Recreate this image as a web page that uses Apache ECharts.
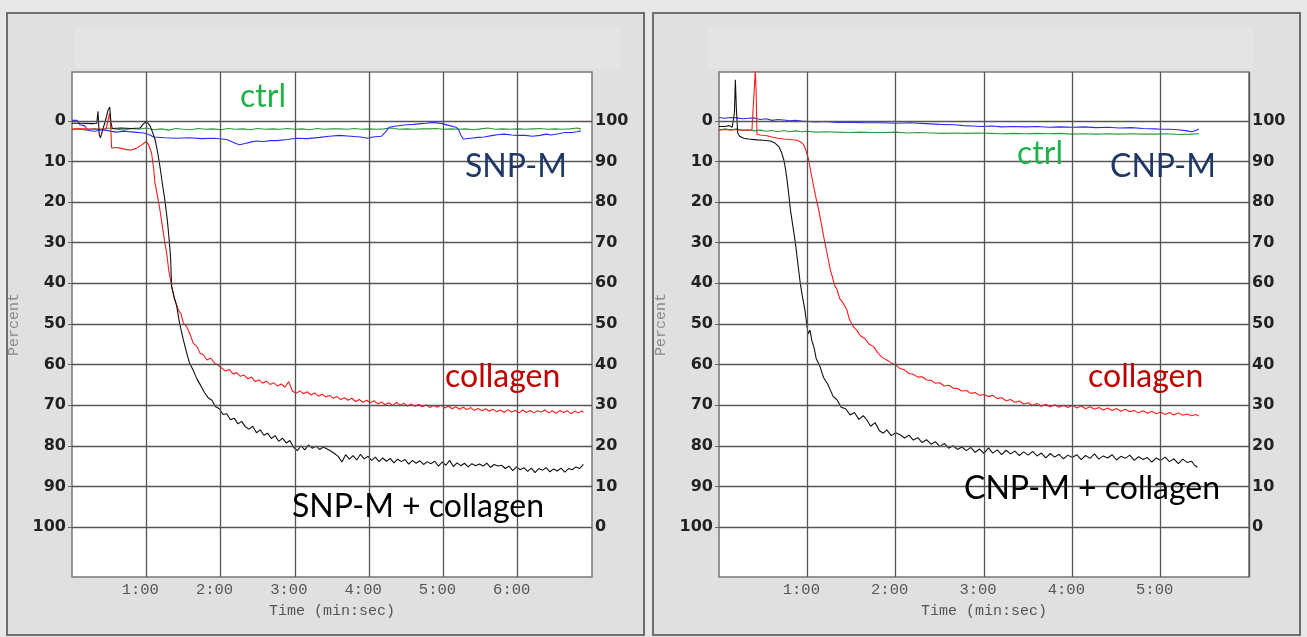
<!DOCTYPE html>
<html>
<head>
<meta charset="utf-8">
<script src="https://cdn.jsdelivr.net/npm/echarts@6/dist/echarts.min.js"></script>
<style>
  html, body { margin: 0; padding: 0; background: #e8e8e8; }
  #main { width: 1307px; height: 637px; }
</style>
</head>
<body>
<div id="main"></div>
<script>
// y grid / label values (percent)
var pctTicks = [0, 10, 20, 30, 40, 50, 60, 70, 80, 90, 100];
var gridMinutes = [60, 120, 180, 240, 300, 360];

// left panel: SNP-M, times in seconds, values in percent
var snpCtrl = [[0,2.2],[6,2.0],[12,2.3],[18,1.9],[24,2.2],[30,1.8],[36,2.1],[42,2.3],[48,1.9],[54,2.1],[60,1.8],[66,2.2],[72,2.0],[78,2.3],[84,1.9],[90,2.1],[96,2.2],[102,1.9],[108,2.1],[114,2.0],[120,2.2],[126,1.9],[132,2.1],[138,2.0],[144,2.2],[150,1.9],[156,2.1],[162,2.0],[168,2.1],[174,1.9],[180,2.1],[186,2.0],[192,2.2],[198,1.9],[204,2.1],[210,2.0],[216,2.0],[222,2.1],[228,1.9],[234,2.1],[240,2.0],[246,2.1],[252,2.0],[258,1.8],[264,2.1],[270,2.0],[276,2.1],[282,2.0],[288,2.0],[294,1.9],[300,2.1],[306,2.0],[312,2.1],[318,2.0],[324,2.2],[330,2.0],[336,1.8],[342,2.1],[348,2.0],[354,2.1],[360,2.0],[366,2.1],[372,2.0],[378,1.9],[384,2.1],[390,2.0],[396,2.1],[402,2.0],[408,1.8],[411,2.0]];

var snpM = [[0,-0.1],[4,-0.1],[6.5,1.0],[10,1.2],[13,2.4],[18,2.6],[24,2.2],[30,2.5],[36,2.8],[42,2.6],[50,2.8],[58,3.0],[62,3.4],[66,4.0],[75,4.2],[85,4.3],[95,4.2],[105,4.4],[115,4.3],[125,4.6],[130,5.3],[135,5.9],[140,5.6],[145,5.2],[149,5.0],[155,5.1],[160,4.9],[165,4.9],[174,4.6],[181,4.3],[190,4.4],[200,4.1],[208,3.8],[216,3.6],[225,3.8],[233,4.0],[239,4.3],[243,4.0],[250,3.8],[254,2.5],[256,1.6],[262,1.3],[270,1.0],[276,0.9],[282,0.7],[286,0.6],[292,0.4],[299,0.7],[305,1.2],[310,1.6],[312,2.0],[314,3.5],[316,4.5],[322,4.3],[328,4.1],[333,4.0],[340,3.6],[345,3.4],[349,3.3],[355,3.5],[360,3.6],[366,3.6],[372,3.8],[378,3.6],[383,3.3],[387,3.5],[393,3.2],[398,2.9],[404,2.9],[408,2.7],[411,2.5]];

var snpCollagen = [[0,2.0],[10,2.0],[20,2.1],[27,2.0],[28,1.5],[29,0],[30.5,-1.9],[31.5,3],[32,6.7],[36,6.6],[40,6.8],[44,7.1],[48,7.2],[52,6.8],[56,6.0],[60,5.1],[62,6],[64.3,8],[66,12],[67,15.3],[69,18.5],[71,21.9],[73,26],[75,30.1],[76.5,32.6],[78,36.5],[80.5,40.8],[83,44],[85.9,46.6],[88,47.5],[90,49.8],[92.6,50.7],[95,52.3],[98,54.8],[101,55.6],[103.4,57.2],
  [106,57.6],[109,58.9],[112,58.4],[115,59.6],[118,60.2],[121,60.9],[124,61.6],[127,61.2],[130,62.3],[133,62.0],[136,62.9],[139,62.6],[142,63.5],[145,63.1],[148,64.2],[151,63.8],[154,64.6],[157,64.1],[160,64.9],[163,64.5],[166,65.3],[169,64.8],[172,65.6],[175,64.2],[178,66.5],[181,67.1],[184,66.5],[187,67.2],[190,66.7],[193,67.5],[196,67.0],[199,67.8],[202,67.3],[205,68.0],[208,67.6],[211,68.3],[214,67.9],[217,68.6],[220,68.2],[223,68.8],[226,68.3],[229,69.1],[232,68.6],[235,69.3],[238,68.8],[241,69.4],[244,68.9],[247,69.7],[250,69.2],[253,69.9],[256,69.4],[259,70.1],[262,69.3],[265,70.0],[268,69.5],[271,70.2],[274,69.7],[277,70.3],[280,69.8],[283,70.4],[286,69.9],[289,70.6],[292,70.1],[295,70.5],[298,70.0],[301,70.7],[304,70.2],[307,70.9],[310,70.4],[313,71.0],[316,70.5],[319,71.1],[322,70.6],[325,71.3],[328,70.8],[331,71.4],[334,70.9],[337,71.5],[340,71.0],[343,71.6],[346,71.2],[349,71.8],[352,71.1],[355,71.7],[358,71.3],[361,71.9],[364,71.2],[367,71.8],[370,71.3],[373,71.9],[376,71.4],[379,71.7],[382,71.2],[385,71.9],[388,71.4],[391,72.0],[394,71.3],[397,71.8],[400,71.4],[403,72.1],[406,71.5],[409,71.9],[412,71.4],[413,71.8]];

var snpMCollagen = [[0,0.6],[8,0.6],[16,0.7],[20,0.6],[21,-2.3],[22,3.5],[23,4.2],[25,2],[27,0],[29,-2.5],[30.5,-3.4],[31.5,0.5],[32.5,1.9],[40,1.8],[48,1.9],[55,1.8],[57,1.0],[59,0.4],[61,0.5],[63,1.2],[65,2.8],[67,4.5],[69,7.5],[71,11.2],[73,15.5],[75,19.5],[77,24.5],[78,27.7],[79.5,33],[80.5,40.8],[82.5,43.5],[84.5,45.5],[87,50],[89.9,53.9],[92.5,57],[95,59.7],
  [98,61.5],[101,63.6],[104,65.2],[107,66.9],[110,68.2],[113,68.8],[116,70.4],[119,70.9],[122,72.3],[125,72.1],[128,73.6],[131,73.2],[134,74.6],[137,74.0],[140,75.3],[143,75.9],[146,75.2],[149,76.8],[152,76.1],[155,77.4],[158,76.9],[161,78.2],[164,77.5],[167,78.9],[170,78.1],[173,79.3],[176,78.7],[179,80.4],[182,81.2],[185,80.0],[188,81.0],[191,79.8],[194,80.6],[197,80.1],[200,80.9],[203,80.3],[206,80.8],[209,81.3],[212,81.9],[215,82.6],[218,84.0],[221,82.2],[224,83.3],[227,82.4],[230,83.5],[233,82.1],[236,83.2],[239,82.6],[242,83.6],[245,82.8],[248,83.9],[251,83.0],[254,83.8],[257,83.1],[260,84.2],[263,83.3],[266,83.9],[269,83.4],[272,84.5],[275,83.6],[278,84.3],[281,83.7],[284,84.6],[287,83.9],[290,84.4],[293,83.8],[296,85.0],[299,84.0],[302,84.8],[305,83.6],[308,85.1],[311,84.2],[314,84.9],[317,84.3],[320,85.2],[323,84.4],[326,84.9],[329,84.5],[332,85.0],[335,84.3],[338,85.3],[341,84.6],[344,85.0],[347,84.8],[350,85.6],[353,85.0],[356,86.1],[359,85.2],[362,85.9],[365,85.4],[368,86.3],[371,85.5],[374,86.6],[377,85.6],[380,86.0],[383,85.4],[386,86.4],[389,85.7],[392,86.2],[395,85.5],[398,86.5],[401,85.6],[404,85.9],[407,85.2],[410,85.6],[413,84.6]];

// right panel: CNP-M
var cnpCtrl = [[0,2.4],[4,2.0],[8,2.3],[12,2.0],[16,2.4],[20,2.2],[24,2.5],[28,2.3],[32,2.6],[36,2.4],[40,2.7],[44,2.4],[48,2.7],[52,2.5],[56,2.7],[60,2.6],[66,2.8],[72,2.7],[80,2.8],[88,2.9],[96,2.8],[104,2.9],[112,2.9],[120,2.8],[128,3.0],[136,2.9],[144,3.0],[152,3.1],[160,3.0],[168,3.1],[176,3.0],[184,3.1],[192,3.2],[200,3.1],[208,3.2],[216,3.1],[224,3.2],[232,3.1],[240,3.3],[248,3.2],[256,3.3],[264,3.2],[272,3.3],[280,3.2],[288,3.3],[296,3.3],[304,3.2],[312,3.4],[320,3.3],[326,3.2]];

var cnpM = [[0,-0.8],[4,-0.6],[8,-0.8],[12,-0.7],[16,-0.5],[20,-0.6],[24,-0.7],[28,-0.3],[32,-0.5],[36,-0.1],[40,-0.3],[44,-0.2],[48,0.0],[52,-0.1],[56,0.1],[60,0.2],[66,0.3],[72,0.2],[80,0.4],[90,0.4],[100,0.5],[110,0.5],[120,0.6],[130,0.5],[140,0.7],[150,0.9],[160,1.0],[166,1.2],[172,1.3],[178,1.4],[185,1.3],[192,1.5],[200,1.4],[208,1.5],[216,1.4],[224,1.6],[232,1.5],[240,1.6],[248,1.5],[256,1.7],[264,1.6],[272,1.8],[280,1.7],[288,1.9],[296,2.0],[300,2.1],[306,2.1],[312,2.2],[318,2.5],[321,2.7],[324,2.4],[326,2.0]];

var cnpCollagen = [[0,2.2],[10,2.2],[20,2.3],[22.4,2.2],[23.5,-5],[24.7,-12.5],[25.3,-6],[25.8,3.4],[28,3.5],[32.6,3.7],[36,4.0],[40,4.3],[44,4.5],[48,4.6],[53,4.8],[55.5,5.2],[57.5,5.9],[59,7.2],[60.9,9.6],[62.5,12.8],[64.3,16.2],[66,19.2],[67.7,21.9],[69.5,25.3],[71.1,28.5],[73.5,32.8],[75.6,36.7],[77,38.4],[78.5,40.5],[80.2,41.6],[82,43.8],[84.4,44.9],[86.9,46.6],[88.5,48.8],[91.2,50.7],[93.7,51.6],
  [96,52.9],[99,53.6],[102,55.0],[105,55.6],[108,57.2],[111,58.3],[114,58.9],[117,59.6],[120,60.1],[123,61.0],[126,61.3],[129,62.2],[132,62.4],[135,63.1],[138,63.0],[141,63.8],[144,63.9],[147,64.6],[150,64.5],[153,65.3],[156,65.1],[159,65.8],[162,65.9],[165,66.5],[168,66.4],[171,67.1],[174,66.9],[177,67.6],[180,67.4],[183,67.9],[186,67.6],[189,68.4],[192,68.2],[195,68.9],[198,68.6],[201,69.3],[204,69.0],[207,69.7],[210,69.4],[213,70.1],[216,69.6],[219,70.3],[222,69.8],[225,70.4],[228,69.9],[231,70.5],[234,70.1],[237,70.6],[240,70.0],[243,70.7],[246,70.2],[249,70.9],[252,70.4],[255,71.0],[258,70.6],[261,71.2],[264,70.7],[267,71.3],[270,70.8],[273,71.5],[276,71.0],[279,71.6],[282,71.3],[285,71.9],[288,71.4],[291,72.0],[294,71.5],[297,72.1],[300,71.7],[303,72.3],[306,71.8],[309,72.4],[312,71.9],[315,72.5],[318,72.2],[321,72.6],[324,72.3],[326,72.7]];

var cnpMCollagen = [[0,1.4],[4,1.4],[7,1.2],[9,1.6],[10.5,-2],[11.1,-10.1],[11.8,-3],[12.7,3.0],[14,3.8],[16.8,4.3],[20,4.5],[25.8,4.7],[30,4.8],[34.9,5.0],[38,5.5],[40.5,6.3],[42.5,7.8],[44,9.6],[45,11.5],[46.2,14.5],[47.5,18.5],[48.5,21.9],[50,25.5],[51.9,30.1],[53.5,35],[55.2,40],[56.5,43],[57.5,44.9],[58.5,47],[59.8,50.7],[60.5,52.5],[61.8,51.5],[63,54],[64.5,55.8],[66,58.5],[68.6,60.5],[71,63.2],[74,64.9],[77.6,67.9],[80,68.6],[83,70.5],[86,70.9],[89,72.4],[92,71.8],[95,73.5],[98,72.6],[100.3,73.6],[103,75.2],[106,74.3],[109,76.3],[111.6,76.9],[114,76.1],[117,77.5],[120,76.8],[123,77.3],[126,78.1],[129,77.4],[132,78.6],[135,78.0],[138,79.2],[141,78.5],[144,79.6],[147,79.0],[150,80.2],[153,79.4],[156,80.6],[159,80.0],[162,80.9],[165,80.3],[168,81.2],[171,80.4],[174,81.6],[177,80.8],[180,81.9],[183,80.5],[186,81.8],[189,81.0],[192,82.2],[195,81.1],[198,82.0],[201,81.3],[204,82.4],[207,81.5],[210,82.3],[213,81.4],[216,82.5],[219,81.8],[222,83.0],[225,81.9],[228,82.8],[231,82.1],[234,83.2],[237,82.3],[240,82.9],[243,82.2],[246,83.4],[249,82.4],[252,83.1],[255,82.0],[258,83.3],[261,82.5],[264,83.0],[267,82.2],[270,83.5],[273,82.6],[276,83.1],[279,82.3],[282,83.6],[285,82.7],[288,83.4],[291,82.9],[294,84.0],[297,83.0],[300,83.6],[303,82.8],[306,83.9],[309,83.2],[312,84.4],[315,83.3],[318,84.1],[321,83.8],[323,84.8],[325,85.3]];

var myChart = echarts.init(document.getElementById('main'));

var monoFont = '"Liberation Mono", "DejaVu Sans Mono", monospace';
var tickFont = '"DejaVu Sans", sans-serif';
var noteFont = 'Lato, "Open Sans", sans-serif';

function xAxisFor(idx, maxSec) {
    return {
        type: 'value', gridIndex: idx, min: 0, max: maxSec, interval: 60,
        name: 'Time (min:sec)', nameLocation: 'middle', nameGap: 27,
        nameTextStyle: { fontFamily: monoFont, fontSize: 15, color: '#555' },
        axisLine: { show: false }, axisTick: { show: false },
        axisLabel: {
            fontFamily: monoFont, fontSize: 15.5, color: '#555', margin: 5, padding: [0, 12, 0, 0],
            formatter: function (v) { return (v <= 0 || v >= maxSec) ? '' : (v / 60) + ':00'; }
        },
        splitLine: { show: false }
    };
}
function leftY(idx) {
    return {
        type: 'value', gridIndex: idx, inverse: true, min: -12, max: 112.3,
        name: 'Percent', nameLocation: 'middle', nameGap: 50, nameRotate: 90,
        nameTextStyle: { fontFamily: monoFont, fontSize: 15, color: '#8a8a8a' },
        axisLine: { show: false },
        axisTick: { show: true, length: 4, customValues: pctTicks, lineStyle: { color: '#666' } },
        axisLabel: { customValues: pctTicks, fontFamily: tickFont, fontWeight: 'bold', fontSize: 16, color: '#222', margin: 6 },
        splitLine: { show: false }
    };
}
function rightY(idx) {
    return {
        type: 'value', gridIndex: idx, position: 'right', min: -12.3, max: 112,
        axisLine: { show: false }, axisTick: { show: false },
        axisLabel: { customValues: pctTicks, fontFamily: tickFont, fontWeight: 'bold', fontSize: 16, color: '#222', margin: 3 },
        splitLine: { show: false }
    };
}
function gridLines(idx) {
    var d = pctTicks.map(function (v) { return { yAxis: v }; })
        .concat(gridMinutes.map(function (m) { return { xAxis: m }; }));
    return {
        type: 'line', xAxisIndex: idx, yAxisIndex: idx * 2, data: [], z: 1, silent: true,
        markLine: { silent: true, symbol: 'none', label: { show: false }, animation: false,
            lineStyle: { color: '#555', type: 'solid', width: 1.3 }, data: d }
    };
}
function trace(idx, data, color) {
    return {
        type: 'line', xAxisIndex: idx, yAxisIndex: idx * 2, data: data, z: 3,
        showSymbol: false, symbol: 'none', lineStyle: { color: color, width: 1.1 }
    };
}
function note(txt, x, y, color) {
    return { type: 'text', left: x, top: y, z: 10,
        style: { text: txt, fill: color, font: '32px ' + noteFont } };
}

var option = {
    animation: false,
    backgroundColor: '#e8e8e8',
    graphic: [
        { type: 'rect', z: -10, shape: { x: 7, y: 13, width: 637, height: 622 },
          style: { fill: '#e0e0e0', stroke: '#6e6e6e', lineWidth: 2 } },
        { type: 'rect', z: -10, shape: { x: 653, y: 13, width: 647, height: 622 },
          style: { fill: '#e0e0e0', stroke: '#6e6e6e', lineWidth: 2 } },
        { type: 'rect', z: -9, shape: { x: 75, y: 28, width: 545, height: 40 }, style: { fill: '#e4e4e4' } },
        { type: 'rect', z: -9, shape: { x: 708, y: 28, width: 545, height: 40 }, style: { fill: '#e4e4e4' } },
        note('ctrl', 240, 81, '#22b04b'),
        note('SNP-M', 465, 151, '#1f3864'),
        note('collagen', 445, 361, '#c00000'),
        note('SNP-M + collagen', 292, 491, '#000'),
        note('ctrl', 1017, 138, '#22b04b'),
        note('CNP-M', 1110, 151, '#1f3864'),
        note('collagen', 1088, 361, '#c00000'),
        note('CNP-M + collagen', 964, 473, '#000')
    ],
    grid: [
        { left: 72, top: 72, width: 520, height: 505, show: true, backgroundColor: '#fff', borderColor: '#777', borderWidth: 1.5 },
        { left: 719, top: 72, width: 530, height: 505, show: true, backgroundColor: '#fff', borderColor: '#777', borderWidth: 1.5 }
    ],
    xAxis: [xAxisFor(0, 420), xAxisFor(1, 360)],
    yAxis: [leftY(0), rightY(0), leftY(1), rightY(1)],
    series: [
        gridLines(0), gridLines(1),
        trace(0, snpCtrl, '#2e9a3a'),
        trace(0, snpM, '#2a2aff'),
        trace(0, snpCollagen, '#ff1a1a'),
        trace(0, snpMCollagen, '#111'),
        trace(1, cnpCtrl, '#2e9a3a'),
        trace(1, cnpM, '#2a2aff'),
        trace(1, cnpCollagen, '#ff1a1a'),
        trace(1, cnpMCollagen, '#111')
    ]
};
myChart.setOption(option);
</script>
</body>
</html>
